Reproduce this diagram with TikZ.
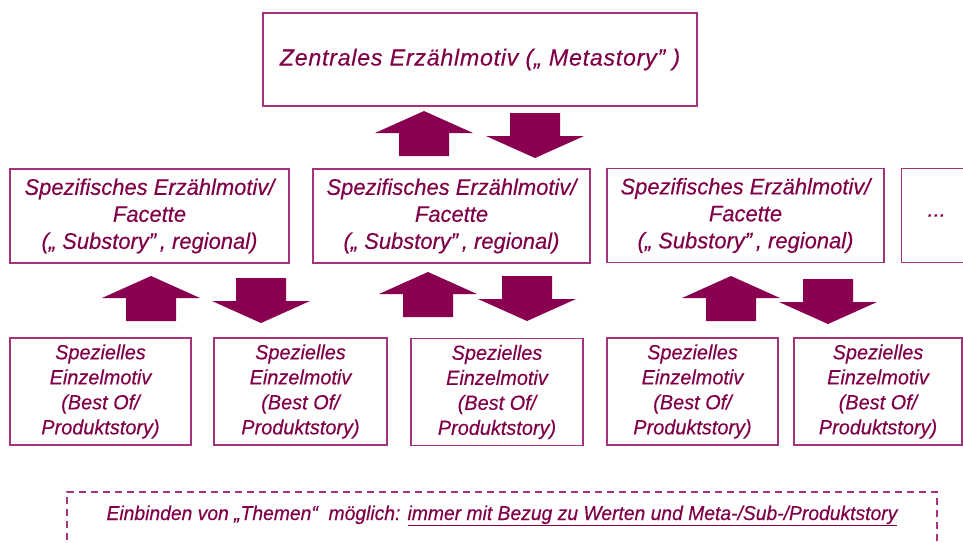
\documentclass[tikz,border=0pt]{standalone}
\usepackage{fontspec}
\setmainfont{Liberation Sans}
\newfontfamily\lsA[LetterSpace=3,FakeBold=0.2]{Liberation Sans}
\newfontfamily\lsB[FakeStretch=0.975,FakeBold=0.3]{Liberation Sans}
\newfontfamily\lsC[FakeStretch=0.97,FakeBold=0.3]{Liberation Sans}
\newfontfamily\lsD[FakeStretch=0.965,FakeBold=0.3]{Liberation Sans}
\definecolor{txt}{RGB}{128,0,72}
\definecolor{arr}{RGB}{138,0,80}
\definecolor{brd}{RGB}{165,50,125}
\tikzset{
  box/.style={draw=brd, line width=1.3pt, rectangle, inner sep=0pt, align=center, text=txt},
  topbox/.style={box, minimum width=434pt, minimum height=93pt, font=\lsA\itshape\fontsize{23.3}{28}\selectfont},
  midbox/.style={box, minimum height=94pt, font=\lsB\itshape\fontsize{22.5}{27}\selectfont},
  lowbox/.style={box, minimum height=107pt, font=\lsC\itshape\fontsize{20.5}{25}\selectfont},
  arrowfill/.style={fill=arr, draw=none},
}
\begin{document}
\begin{tikzpicture}[x=1pt,y=-1pt]
\useasboundingbox (0,0) rectangle (963,542);
\clip (0,0) rectangle (963,542);
% top
\node[topbox] (top) at (480,59.5) {Zentrales Erzählmotiv („ Metastory” )};
% middle
\node[midbox, minimum width=279pt] (m1) at (149.5,216) {Spezifisches Erzählmotiv/\\Facette\\(„ Substory”\,, regional)};
\node[midbox, minimum width=277pt] (m2) at (451.5,216) {Spezifisches Erzählmotiv/\\Facette\\(„ Substory”\,, regional)};
\node[midbox, minimum width=277pt] (m3) at (745.5,215.5) {Spezifisches Erzählmotiv/\\Facette\\(„ Substory”\,, regional)};
\node[midbox, minimum width=100pt, anchor=west] (m4) at (901,215.5) {\hspace*{-30pt}...};
% bottom
\node[lowbox, minimum width=181pt] (b1) at (100.5,391.5) {Spezielles\\Einzelmotiv\\(Best Of/\\Produktstory)};
\node[lowbox, minimum width=173pt] (b2) at (300.5,391.5) {Spezielles\\Einzelmotiv\\(Best Of/\\Produktstory)};
\node[lowbox, minimum width=172pt] (b3) at (497,392) {Spezielles\\Einzelmotiv\\(Best Of/\\Produktstory)};
\node[lowbox, minimum width=171pt] (b4) at (692.5,391.5) {Spezielles\\Einzelmotiv\\(Best Of/\\Produktstory)};
\node[lowbox, minimum width=168pt] (b5) at (878,391.5) {Spezielles\\Einzelmotiv\\(Best Of/\\Produktstory)};
% dashed box
\draw[brd, line width=1.2pt, dash pattern=on 7pt off 5pt] (67,600) -- (67,492) -- (937,492) -- (937,600);
\node[text=txt, font=\lsD\itshape\fontsize{20}{22}\selectfont, anchor=base] (note) at (502,520)
  {Einbinden von „Themen“\ \ möglich: \underline{immer mit Bezug zu Werten und Meta-/Sub-/Produktstory}};
% arrows
\newcommand{\uparr}[2]{% tip x, tip y
  \fill[arrowfill] (#1,#2) -- ++(49,22) -- ++(-24,0) -- ++(0,23) -- ++(-50,0) -- ++(0,-23) -- ++(-24,0) -- cycle;}
\newcommand{\downarr}[2]{%
  \fill[arrowfill] (#1,#2) -- ++(49,-22) -- ++(-24,0) -- ++(0,-23) -- ++(-50,0) -- ++(0,23) -- ++(-24,0) -- cycle;}
\uparr{424}{111}
\downarr{535}{158}
\uparr{151}{276}
\downarr{261}{323}
\uparr{428}{272}
\downarr{527}{321}
\uparr{731}{276}
\downarr{828}{324}
\end{tikzpicture}
\end{document}
